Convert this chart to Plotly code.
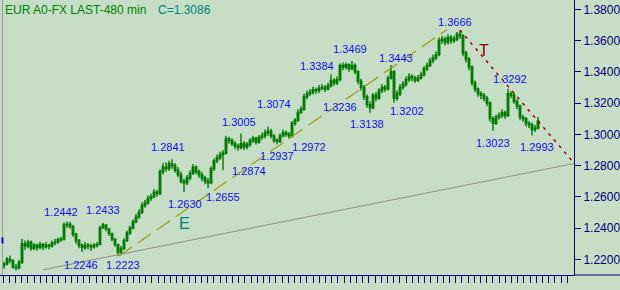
import plotly.graph_objects as go

# ---------------- data ----------------
first_open = 1.2160
closes = [
    1.2170, 1.2200, 1.2190, 1.2150, 1.2145, 1.2180, 1.2300, 1.2285, 1.2310, 1.2270,
    1.2290, 1.2275, 1.2295, 1.2280, 1.2290, 1.2285, 1.2305, 1.2310, 1.2325, 1.2330,
    1.2420, 1.2425, 1.2410, 1.2360, 1.2320, 1.2290, 1.2275, 1.2290, 1.2285, 1.2280,
    1.2290, 1.2295, 1.2400, 1.2420, 1.2395, 1.2365, 1.2330, 1.2295, 1.2245, 1.2270,
    1.2320, 1.2370, 1.2400, 1.2440, 1.2470, 1.2500, 1.2545, 1.2560, 1.2590, 1.2600,
    1.2630, 1.2620, 1.2760, 1.2790, 1.2780, 1.2810, 1.2800, 1.2770, 1.2740, 1.2700,
    1.2690, 1.2720, 1.2750, 1.2790, 1.2760, 1.2740, 1.2720, 1.2700, 1.2690, 1.2780,
    1.2830, 1.2850, 1.2870, 1.2880, 1.2970, 1.2960, 1.2940, 1.2925, 1.2915, 1.2940,
    1.2920, 1.2935, 1.2960, 1.2975, 1.2950, 1.2980, 1.2990, 1.3010, 1.3020, 1.2990,
    1.2960, 1.2955, 1.2990, 1.3010, 1.3000, 1.2990, 1.3070, 1.3090, 1.3140, 1.3160,
    1.3240, 1.3260, 1.3270, 1.3285, 1.3280, 1.3295, 1.3300, 1.3290, 1.3310, 1.3345,
    1.3330, 1.3350, 1.3440, 1.3430, 1.3445, 1.3420, 1.3440, 1.3400, 1.3340, 1.3300,
    1.3240, 1.3190, 1.3170, 1.3250, 1.3230, 1.3280, 1.3300, 1.3290, 1.3360, 1.3400,
    1.3230, 1.3260, 1.3300, 1.3320, 1.3350, 1.3370, 1.3360, 1.3345, 1.3360, 1.3380,
    1.3420, 1.3440, 1.3470, 1.3490, 1.3510, 1.3600, 1.3610, 1.3590, 1.3620, 1.3600,
    1.3610, 1.3640, 1.3630, 1.3520, 1.3480, 1.3430, 1.3330, 1.3290, 1.3260, 1.3250,
    1.3230, 1.3200, 1.3100, 1.3070, 1.3110, 1.3120, 1.3140, 1.3120, 1.3260, 1.3250,
    1.3210, 1.3180, 1.3110, 1.3100, 1.3070, 1.3060, 1.3030, 1.3040, 1.3086,
]
highs = [
    1.2185, 1.2215, 1.2225, 1.2200, 1.2170, 1.2195, 1.2330, 1.2320, 1.2325, 1.2320,
    1.2305, 1.2300, 1.2312, 1.2305, 1.2310, 1.2300, 1.2320, 1.2330, 1.2340, 1.2345,
    1.2435, 1.2442, 1.2440, 1.2420, 1.2370, 1.2330, 1.2300, 1.2310, 1.2305, 1.2300,
    1.2305, 1.2310, 1.2415, 1.2433, 1.2425, 1.2400, 1.2370, 1.2335, 1.2300, 1.2285,
    1.2335, 1.2385, 1.2415, 1.2455, 1.2490, 1.2520, 1.2565, 1.2580, 1.2610, 1.2620,
    1.2650, 1.2645, 1.2775, 1.2815, 1.2820, 1.2830, 1.2841, 1.2815, 1.2790, 1.2760,
    1.2715, 1.2740, 1.2770, 1.2810, 1.2800, 1.2775, 1.2760, 1.2735, 1.2720, 1.2795,
    1.2845, 1.2870, 1.2890, 1.2900, 1.2990, 1.2985, 1.2975, 1.2955, 1.2940, 1.3005,
    1.2955, 1.2950, 1.2975, 1.2990, 1.2985, 1.2995, 1.3010, 1.3030, 1.3050, 1.3035,
    1.3000, 1.2975, 1.3005, 1.3030, 1.3025, 1.3015, 1.3085, 1.3105, 1.3160, 1.3180,
    1.3260, 1.3280, 1.3290, 1.3305, 1.3300, 1.3315, 1.3320, 1.3315, 1.3330, 1.3384,
    1.3360, 1.3370, 1.3455, 1.3460, 1.3460, 1.3455, 1.3469, 1.3455, 1.3410, 1.3355,
    1.3315, 1.3255, 1.3210, 1.3265, 1.3270, 1.3295, 1.3320, 1.3315, 1.3375, 1.3443,
    1.3410, 1.3280, 1.3320, 1.3340, 1.3370, 1.3390, 1.3385, 1.3375, 1.3380, 1.3400,
    1.3435, 1.3460, 1.3490, 1.3510, 1.3530, 1.3620, 1.3630, 1.3625, 1.3640, 1.3635,
    1.3630, 1.3655, 1.3666, 1.3640, 1.3535, 1.3495, 1.3440, 1.3345, 1.3300, 1.3275,
    1.3265, 1.3245, 1.3210, 1.3115, 1.3125, 1.3140, 1.3160, 1.3150, 1.3292, 1.3275,
    1.3265, 1.3225, 1.3190, 1.3125, 1.3110, 1.3085, 1.3075, 1.3060, 1.3110,
]
lows = [
    1.2140, 1.2160, 1.2175, 1.2140, 1.2128, 1.2135, 1.2170, 1.2260, 1.2270, 1.2255,
    1.2258, 1.2255, 1.2265, 1.2260, 1.2268, 1.2262, 1.2275, 1.2290, 1.2300, 1.2310,
    1.2320, 1.2400, 1.2395, 1.2345, 1.2300, 1.2270, 1.2246, 1.2260, 1.2265, 1.2255,
    1.2268, 1.2275, 1.2290, 1.2395, 1.2380, 1.2350, 1.2315, 1.2280, 1.2223, 1.2235,
    1.2260, 1.2310, 1.2355, 1.2390, 1.2430, 1.2460, 1.2490, 1.2530, 1.2550, 1.2575,
    1.2590, 1.2600, 1.2610, 1.2745, 1.2760, 1.2765, 1.2780, 1.2755, 1.2725, 1.2685,
    1.2630, 1.2675, 1.2705, 1.2740, 1.2745, 1.2720, 1.2700, 1.2680, 1.2655, 1.2680,
    1.2765, 1.2815, 1.2835, 1.2770, 1.2870, 1.2940, 1.2925, 1.2905, 1.2895, 1.2905,
    1.2900, 1.2905, 1.2920, 1.2945, 1.2935, 1.2940, 1.2965, 1.2975, 1.2990, 1.2975,
    1.2945, 1.2937, 1.2945, 1.2980, 1.2985, 1.2972, 1.2980, 1.3055, 1.3080, 1.3130,
    1.3150, 1.3225, 1.3245, 1.3255, 1.3260, 1.3265, 1.3280, 1.3270, 1.3280, 1.3300,
    1.3310, 1.3315, 1.3340, 1.3410, 1.3415, 1.3400, 1.3410, 1.3385, 1.3320, 1.3280,
    1.3220, 1.3170, 1.3138, 1.3160, 1.3210, 1.3220, 1.3265, 1.3270, 1.3280, 1.3350,
    1.3202, 1.3215, 1.3245, 1.3285, 1.3305, 1.3335, 1.3340, 1.3330, 1.3335, 1.3350,
    1.3370, 1.3405, 1.3430, 1.3455, 1.3475, 1.3500, 1.3580, 1.3570, 1.3575, 1.3580,
    1.3585, 1.3595, 1.3610, 1.3500, 1.3460, 1.3410, 1.3310, 1.3270, 1.3240, 1.3225,
    1.3210, 1.3180, 1.3080, 1.3023, 1.3060, 1.3095, 1.3105, 1.3100, 1.3110, 1.3230,
    1.3195, 1.3160, 1.3090, 1.3080, 1.3050, 1.3040, 1.2993, 1.3015, 1.3030,
]
opens = [first_open] + closes[:-1]
bars = list(range(len(closes)))

# swing labels (text, bar position, price position)
label_text = ["1.3666", "1.3469", "1.3384", "1.3443", "1.3074", "1.3236", "1.3202",
              "1.3138", "1.3005", "1.2937", "1.2972", "1.2841", "1.2874", "1.2630",
              "1.2655", "1.2442", "1.2433", "1.2246", "1.2223", "1.3292", "1.3023",
              "1.2993"]
label_bar = [150.3, 115.3, 104.3, 130.7, 90.0, 112.0, 134.3, 121.0, 78.3, 91.0, 101.7,
             54.7, 81.7, 60.3, 73.0, 19.0, 33.0, 25.7, 39.7, 168.7, 163.0, 177.7]
label_price = [1.37187, 1.35459, 1.34371, 1.34883, 1.31939, 1.31747, 1.31491, 1.30659,
               1.30787, 1.28611, 1.29187, 1.29187, 1.27651, 1.25539, 1.25987, 1.25027,
               1.25155, 1.21635, 1.21635, 1.33539, 1.29443, 1.29187]

y_ticks = [1.22, 1.24, 1.26, 1.28, 1.30, 1.32, 1.34, 1.36, 1.38]
title_text = "EUR A0-FX LAST-480 min"
last_text = "C=1.3086"

# trend lines (bar, price)
trend_e = [(38.3, 1.2221), (147.7, 1.3671)]
trend_t = [(152.0, 1.3666), (190.0, 1.2816)]
trend_base = [(13.0, 1.2133), (190.0, 1.2813)]

# ---------------- figure ----------------
BG = "#C5DEC5"
NAVY = "#000080"
FONT = "Liberation Sans, Arial, sans-serif"
W, H = 620, 290
ML, MR, MT, MB = 0, 46, 0, 15
PW = W - ML - MR
PH = H - MT - MB

fig = go.Figure()
fig.add_trace(go.Candlestick(
    x=bars, open=opens, high=highs, low=lows, close=closes,
    increasing=dict(line=dict(color="#007a00", width=1.4), fillcolor="#1f9a1f"),
    decreasing=dict(line=dict(color="#007a00", width=1.4), fillcolor="#1f9a1f"),
    whiskerwidth=0, hoverinfo="skip", showlegend=False,
))

shapes = []
shapes.append(dict(type="line", xref="x", yref="y",
                   x0=trend_base[0][0], y0=trend_base[0][1],
                   x1=trend_base[1][0], y1=trend_base[1][1],
                   line=dict(color="#8c8c8c", width=1)))
shapes.append(dict(type="line", xref="x", yref="y",
                   x0=trend_e[0][0], y0=trend_e[0][1],
                   x1=trend_e[1][0], y1=trend_e[1][1],
                   line=dict(color="#9a9a10", width=1.2, dash="16px,7px")))
shapes.append(dict(type="line", xref="x", yref="y",
                   x0=trend_t[0][0], y0=trend_t[0][1],
                   x1=trend_t[1][0], y1=trend_t[1][1],
                   line=dict(color="#a00000", width=1.5, dash="3px,5px")))
# bottom axis line continuing under the price scale
shapes.append(dict(type="line", xref="paper", yref="paper",
                   x0=1, x1=W / PW, y0=0, y1=0,
                   line=dict(color=NAVY, width=1)))
# left window border
shapes.append(dict(type="line", xref="paper", yref="paper",
                   x0=2.5 / PW, x1=2.5 / PW, y0=0, y1=1.2,
                   line=dict(color="#9a9a9a", width=1)))
# small blue marker at left edge
shapes.append(dict(type="line", xref="paper", yref="paper",
                   x0=2.5 / PW, x1=2.5 / PW, y0=1 - 237.5 / PH, y1=1 - 243.5 / PH,
                   line=dict(color="#0000ff", width=2)))

annotations = []
for t, bx, py in zip(label_text, label_bar, label_price):
    annotations.append(dict(x=bx, y=py, xref="x", yref="y", text=t, showarrow=False,
                            font=dict(family=FONT, size=11, color="#1010f0"),
                            xanchor="center", yanchor="middle"))
annotations.append(dict(x=3 / PW, y=1 - 9.5 / PH, xref="paper", yref="paper",
                        text=title_text, showarrow=False, xanchor="left", yanchor="middle",
                        font=dict(family=FONT, size=12, color="#008000")))
annotations.append(dict(x=156 / PW, y=1 - 9.5 / PH, xref="paper", yref="paper",
                        text=last_text, showarrow=False, xanchor="left", yanchor="middle",
                        font=dict(family=FONT, size=12, color="#008080")))
annotations.append(dict(x=(184.5 - 4) / 3, y=1.38 - (223 - 9.3) / 1562.5, xref="x", yref="y",
                        text="E", showarrow=False,
                        font=dict(family=FONT, size=16, color="#008080")))
annotations.append(dict(x=(484 - 4) / 3, y=1.38 - (50 - 9.3) / 1562.5, xref="x", yref="y",
                        text="T", showarrow=False,
                        font=dict(family=FONT, size=16, color="#8b0000")))

tick_positions = [-1 / 3 + k * 6.2 / 3 for k in range(92)]

fig.update_layout(
    width=W, height=H,
    margin=dict(l=ML, r=MR, t=MT, b=MB, pad=0),
    paper_bgcolor=BG, plot_bgcolor=BG,
    showlegend=False,
    shapes=shapes, annotations=annotations,
    xaxis=dict(range=[-4 / 3, (PW - 4) / 3], showgrid=False, zeroline=False,
               showline=True, linecolor=NAVY, linewidth=1,
               ticks="outside", ticklen=7, tickcolor=NAVY, tickwidth=1,
               tickmode="array", tickvals=tick_positions,
               showticklabels=False, rangeslider=dict(visible=False), fixedrange=True),
    yaxis=dict(side="right", range=[1.20995, 1.38595], showgrid=False, zeroline=False,
               showline=True, linecolor=NAVY, linewidth=1, mirror=False,
               ticks="outside", ticklen=6, tickcolor=NAVY, tickwidth=1,
               tickmode="array", tickvals=y_ticks,
               ticktext=["%.4f" % v for v in y_ticks],
               tickfont=dict(family=FONT, size=12, color=NAVY), fixedrange=True),
)

fig.write_html("out.html")
